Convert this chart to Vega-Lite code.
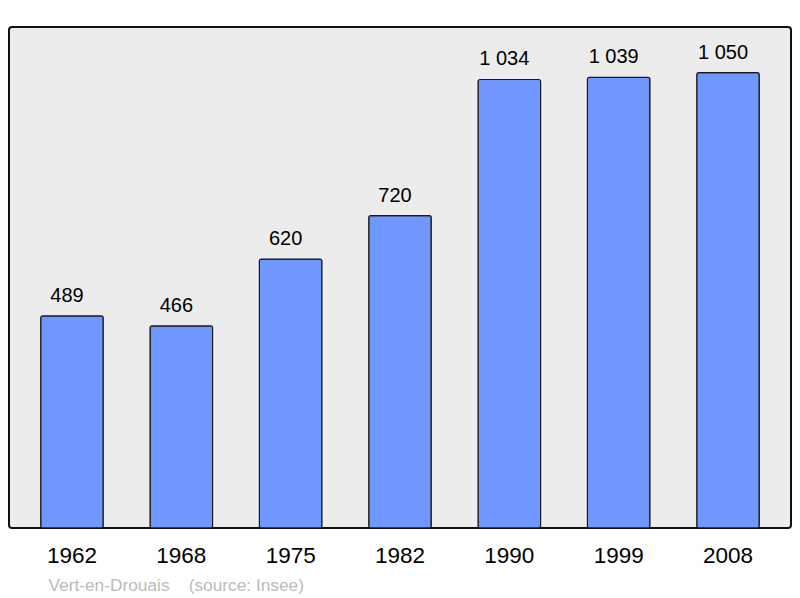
{
  "$schema": "https://vega.github.io/schema/vega-lite/v6.json",
  "width": 782,
  "height": 501,
  "autosize": "none",
  "padding": {"left": 9, "top": 27, "right": 9, "bottom": 70},
  "background": "white",
  "config": {
    "view": {"fill": "#ececec", "stroke": "#111111", "strokeWidth": 2, "cornerRadius": 3},
    "font": "Liberation Sans"
  },
  "data": {
    "values": [
      {"year": "1962", "pop": 489, "label": "489"},
      {"year": "1968", "pop": 466, "label": "466"},
      {"year": "1975", "pop": 620, "label": "620"},
      {"year": "1982", "pop": 720, "label": "720"},
      {"year": "1990", "pop": 1034, "label": "1 034"},
      {"year": "1999", "pop": 1039, "label": "1 039"},
      {"year": "2008", "pop": 1050, "label": "1 050"}
    ]
  },
  "encoding": {
    "x": {
      "field": "year", "type": "nominal", "sort": null,
      "scale": {"paddingInner": 0.428, "paddingOuter": 0.29},
      "axis": {
        "domain": false, "ticks": false, "labelAngle": 0, "labelFontSize": 22.5,
        "labelColor": "#000000", "labelPadding": 16, "labelFont": "Liberation Sans",
        "title": "Vert-en-Drouais\u00a0\u00a0\u00a0\u00a0(source: Insee)",
        "titleFontSize": 17.3, "titleFontWeight": "normal", "titleColor": "#bbbbbb",
        "titleAnchor": "start", "titleAlign": "left", "titleBaseline": "alphabetic", "titleX": 39, "titleY": 62,
        "titleFont": "Liberation Sans"
      }
    },
    "y": {
      "field": "pop", "type": "quantitative",
      "scale": {"domain": [0, 1155], "nice": false},
      "axis": null
    }
  },
  "layer": [
    {
      "mark": {"type": "bar", "fill": "#7097ff", "stroke": "#1a1a1a", "strokeWidth": 1.2, "cornerRadius": 2}
    },
    {
      "mark": {"type": "text", "baseline": "alphabetic", "dy": -14, "dx": -5, "fontSize": 20, "color": "#000000"},
      "encoding": {"text": {"field": "label"}}
    }
  ]
}
